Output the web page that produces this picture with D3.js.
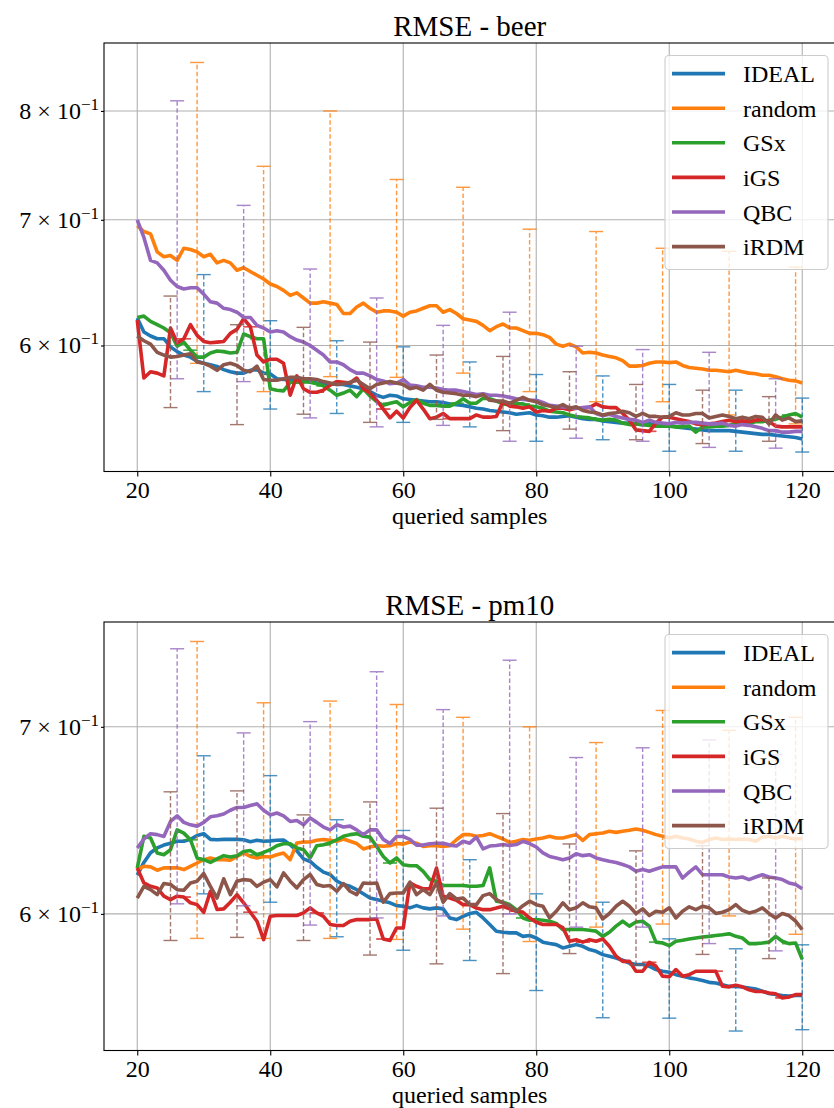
<!DOCTYPE html>
<html>
<head>
<meta charset="utf-8">
<script src="https://cdn.jsdelivr.net/npm/d3@7"></script>
<style>
  html, body { margin: 0; padding: 0; background: #fff; }
  svg text { font-family: "Liberation Serif", "Times New Roman", serif; fill: #000; }
</style>
</head>
<body>
<svg id="chart" width="834" height="1108"></svg>
<script>
const queried = d3.range(20, 121);
const methods = ['IDEAL', 'random', 'GSx', 'iGS', 'QBC', 'iRDM'];
const colors = ['#1f77b4', '#ff7f0e', '#2ca02c', '#d62728', '#9467bd', '#8c564b'];
// first queried count with an error bar, then every 10
const errStart = [30, 29, 28, 27, 26, 25];
const xTicks = [20, 40, 60, 80, 100, 120];

// ---- RMSE - beer ----
const beerIdeal = [
  0.6205, 0.610, 0.607, 0.605, 0.605, 0.599, 0.5955, 0.593, 0.5915, 0.5885,
  0.587, 0.586, 0.5848, 0.5825, 0.581, 0.580, 0.580, 0.582, 0.5825, 0.580,
  0.5795, 0.576, 0.5755, 0.5755, 0.5755, 0.575, 0.574, 0.573, 0.5725, 0.5725,
  0.572, 0.572, 0.571, 0.570, 0.569, 0.567, 0.5645, 0.563, 0.5645, 0.564,
  0.562, 0.5615, 0.561, 0.5605, 0.560, 0.560, 0.5595, 0.5585, 0.558, 0.5575,
  0.5565, 0.5555, 0.555, 0.554, 0.5535, 0.553, 0.5525, 0.5515, 0.552, 0.5525,
  0.551, 0.5505, 0.5495, 0.5495, 0.550, 0.5505, 0.5495, 0.5485, 0.548, 0.548,
  0.547, 0.5465, 0.546, 0.5455, 0.5455, 0.545, 0.5445, 0.545, 0.5445, 0.544,
  0.544, 0.543, 0.5425, 0.542, 0.5415, 0.541, 0.5405, 0.5405, 0.5405, 0.5405,
  0.540, 0.5395, 0.539, 0.5385, 0.538, 0.538, 0.5375, 0.537, 0.5365, 0.536,
  0.535];
const beerRandom = [
  0.695, 0.690, 0.688, 0.673, 0.669, 0.670, 0.666, 0.676, 0.675, 0.673,
  0.669, 0.671, 0.664, 0.666, 0.664, 0.658, 0.660, 0.657, 0.654, 0.651,
  0.647, 0.645, 0.642, 0.638, 0.640, 0.636, 0.632, 0.632, 0.633, 0.632,
  0.631, 0.624, 0.624, 0.629, 0.632, 0.628, 0.625, 0.626, 0.626, 0.625,
  0.622, 0.625, 0.626, 0.628, 0.630, 0.630, 0.625, 0.627, 0.624, 0.620,
  0.619, 0.618, 0.615, 0.611, 0.614, 0.616, 0.613, 0.613, 0.611, 0.609,
  0.609, 0.608, 0.606, 0.601, 0.5995, 0.601, 0.599, 0.5945, 0.595, 0.5945,
  0.593, 0.592, 0.591, 0.589, 0.585, 0.585, 0.5855, 0.587, 0.588, 0.588,
  0.5875, 0.588, 0.5855, 0.584, 0.5835, 0.583, 0.582, 0.582, 0.5815, 0.581,
  0.582, 0.581, 0.580, 0.5795, 0.5785, 0.5785, 0.5775, 0.576, 0.575, 0.5745,
  0.573];
const beerGSx = [
  0.621, 0.622, 0.618, 0.6155, 0.613, 0.6095, 0.5995, 0.6025, 0.5965, 0.5915,
  0.5915, 0.5945, 0.596, 0.5955, 0.5945, 0.595, 0.6085, 0.6065, 0.605, 0.605,
  0.569, 0.568, 0.5675, 0.5735, 0.5735, 0.574, 0.5735, 0.5725, 0.571, 0.568,
  0.5645, 0.566, 0.568, 0.5635, 0.569, 0.564, 0.560, 0.5575, 0.559, 0.560,
  0.5565, 0.5595, 0.5615, 0.559, 0.5575, 0.5575, 0.557, 0.557, 0.559, 0.562,
  0.559, 0.559, 0.5625, 0.562, 0.5605, 0.5585, 0.558, 0.5585, 0.5585, 0.557,
  0.5565, 0.5555, 0.5535, 0.553, 0.5525, 0.551, 0.550, 0.5495, 0.549, 0.548,
  0.5475, 0.548, 0.5475, 0.5455, 0.5445, 0.545, 0.5445, 0.544, 0.5435, 0.5435,
  0.5435, 0.543, 0.543, 0.5435, 0.5395, 0.543, 0.543, 0.5435, 0.5435, 0.544,
  0.545, 0.545, 0.545, 0.5465, 0.5465, 0.5475, 0.548, 0.5495, 0.551, 0.552,
  0.5495];
const beerIGS = [
  0.619, 0.5765, 0.581, 0.580, 0.578, 0.613, 0.602, 0.605, 0.6155, 0.6075,
  0.603, 0.602, 0.6025, 0.603, 0.609, 0.612, 0.620, 0.614, 0.593, 0.588,
  0.590, 0.590, 0.587, 0.5645, 0.578, 0.569, 0.5665, 0.5665, 0.568, 0.5715,
  0.574, 0.5735, 0.573, 0.5765, 0.569, 0.566, 0.561, 0.555, 0.549, 0.5535,
  0.549, 0.556, 0.561, 0.555, 0.5485, 0.5495, 0.552, 0.5485, 0.5485, 0.5485,
  0.5485, 0.551, 0.5495, 0.5495, 0.550, 0.560, 0.557, 0.5565, 0.5555, 0.5565,
  0.553, 0.554, 0.5535, 0.5555, 0.5555, 0.5545, 0.5555, 0.5555, 0.556, 0.5585,
  0.5565, 0.556, 0.556, 0.552, 0.5475, 0.541, 0.5405, 0.540, 0.5455, 0.5495,
  0.5495, 0.5485, 0.5475, 0.5465, 0.545, 0.5445, 0.545, 0.5455, 0.5465, 0.5475,
  0.5465, 0.547, 0.5465, 0.5475, 0.548, 0.5465, 0.5435, 0.543, 0.543, 0.543,
  0.543];
const beerQBC = [
  0.700, 0.685, 0.666, 0.664, 0.658, 0.650, 0.645, 0.643, 0.644, 0.644,
  0.639, 0.633, 0.632, 0.628, 0.627, 0.625, 0.621, 0.621, 0.615, 0.613,
  0.610, 0.611, 0.610, 0.6065, 0.604, 0.6025, 0.600, 0.5965, 0.593, 0.588,
  0.588, 0.586, 0.5825, 0.580, 0.580, 0.578, 0.5755, 0.5745, 0.5725, 0.573,
  0.5755, 0.5715, 0.571, 0.570, 0.570, 0.5695, 0.5685, 0.568, 0.568, 0.567,
  0.566, 0.565, 0.5655, 0.5645, 0.5645, 0.564, 0.563, 0.562, 0.5615, 0.561,
  0.561, 0.5595, 0.5575, 0.557, 0.5565, 0.556, 0.5555, 0.556, 0.5565, 0.552,
  0.5505, 0.5515, 0.550, 0.549, 0.548, 0.5475, 0.546, 0.5475, 0.546, 0.5455,
  0.545, 0.546, 0.5455, 0.546, 0.546, 0.5455, 0.545, 0.545, 0.5455, 0.544,
  0.5435, 0.5445, 0.544, 0.543, 0.542, 0.5405, 0.5405, 0.5395, 0.5395, 0.540,
  0.540];
const beerIRDM = [
  0.607, 0.6035, 0.601, 0.595, 0.593, 0.5915, 0.592, 0.593, 0.594, 0.588,
  0.587, 0.585, 0.582, 0.586, 0.587, 0.5855, 0.582, 0.581, 0.585, 0.5755,
  0.575, 0.575, 0.576, 0.577, 0.577, 0.576, 0.576, 0.5755, 0.574, 0.573,
  0.572, 0.5725, 0.5735, 0.575, 0.572, 0.569, 0.572, 0.573, 0.574, 0.573,
  0.572, 0.569, 0.570, 0.568, 0.572, 0.568, 0.5665, 0.566, 0.5655, 0.5645,
  0.5645, 0.5635, 0.565, 0.561, 0.5605, 0.5605, 0.559, 0.561, 0.563, 0.561,
  0.560, 0.558, 0.557, 0.556, 0.558, 0.5555, 0.5565, 0.554, 0.553, 0.5525,
  0.551, 0.552, 0.5525, 0.5535, 0.5525, 0.550, 0.552, 0.550, 0.550, 0.5495,
  0.550, 0.5525, 0.551, 0.551, 0.552, 0.552, 0.549, 0.550, 0.551, 0.550,
  0.5485, 0.5495, 0.5485, 0.550, 0.5495, 0.545, 0.551, 0.5475, 0.549, 0.5465,
  0.547];

// error bar ends (lower / upper), one per 10 samples
const beerIdealLo  = [0.567, 0.555, 0.552, 0.546, 0.543, 0.5335, 0.5345, 0.527, 0.527, 0.5265];
const beerIdealHi  = [0.6545, 0.6185, 0.6035, 0.599, 0.588, 0.579, 0.578, 0.572, 0.568, 0.5625];
const beerRandomLo = [0.587, 0.567, 0.5775, 0.577, 0.580, 0.567, 0.560, 0.560, 0.551, 0.545];
const beerRandomHi = [0.849, 0.7475, 0.800, 0.7355, 0.7285, 0.692, 0.690, 0.676, 0.6735, 0.6605];
const beerQBCLo    = [0.576, 0.574, 0.549, 0.543, 0.544, 0.5335, 0.5355, 0.5335, 0.5295, 0.529];
const beerQBCHi    = [0.810, 0.7125, 0.659, 0.636, 0.615, 0.625, 0.5995, 0.597, 0.595, 0.576];
const beerIRDMLo   = [0.556, 0.5445, 0.5515, 0.546, 0.548, 0.5405, 0.5415, 0.5345, 0.532, 0.5335];
const beerIRDMHi   = [0.6375, 0.6155, 0.6135, 0.6025, 0.593, 0.592, 0.581, 0.572, 0.568, 0.5635];

// ---- RMSE - pm10 ----
const pm10Ideal = [
  0.6195, 0.626, 0.631, 0.6335, 0.635, 0.636, 0.637, 0.637, 0.638, 0.640,
  0.641, 0.638, 0.6378, 0.638, 0.638, 0.638, 0.6378, 0.6368, 0.6375, 0.637,
  0.6372, 0.6375, 0.6377, 0.6352, 0.632, 0.6278, 0.6265, 0.6235, 0.621, 0.6198,
  0.6165, 0.6147, 0.6138, 0.6121, 0.610, 0.6079, 0.6071, 0.6063, 0.6055, 0.6041,
  0.6038, 0.603, 0.6041, 0.603, 0.6025, 0.603, 0.6025, 0.598, 0.5972, 0.5988,
  0.6002, 0.6008, 0.598, 0.5948, 0.5915, 0.591, 0.5907, 0.5907, 0.589, 0.5894,
  0.5882, 0.5862, 0.5855, 0.585, 0.5834, 0.5842, 0.585, 0.5842, 0.5826, 0.5818,
  0.5802, 0.5794, 0.5786, 0.5775, 0.5762, 0.5755, 0.5755, 0.5747, 0.5731, 0.5723,
  0.5718, 0.5707, 0.570, 0.5692, 0.5687, 0.568, 0.5671, 0.5668, 0.566, 0.5652,
  0.5652, 0.5649, 0.5645, 0.564, 0.563, 0.5619, 0.5614, 0.561, 0.5607, 0.561,
  0.561];
const pm10Random = [
  0.6223, 0.624, 0.6237, 0.622, 0.6232, 0.6232, 0.6232, 0.6223, 0.624, 0.6257,
  0.6274, 0.6283, 0.6274, 0.6274, 0.6271, 0.6291, 0.6309, 0.6291, 0.6283, 0.6291,
  0.6288, 0.630, 0.6309, 0.6274, 0.6361, 0.6366, 0.6366, 0.6375, 0.6379, 0.6375,
  0.637, 0.6382, 0.637, 0.6358, 0.633, 0.634, 0.6347, 0.6344, 0.6347, 0.6358,
  0.6355, 0.6366, 0.636, 0.6343, 0.6347, 0.6347, 0.6343, 0.6347, 0.6378, 0.6405,
  0.6405, 0.6396, 0.640, 0.641, 0.6396, 0.6382, 0.6364, 0.637, 0.6379, 0.6375,
  0.6382, 0.6387, 0.6396, 0.6387, 0.6387, 0.6396, 0.6405, 0.6375, 0.6405, 0.641,
  0.6414, 0.6423, 0.6417, 0.6423, 0.6428, 0.6435, 0.6428, 0.6417, 0.6405, 0.6396,
  0.6387, 0.6396, 0.6387, 0.6382, 0.637, 0.6364, 0.6379, 0.6387, 0.6379, 0.6382,
  0.6379, 0.6382, 0.6379, 0.637, 0.6392, 0.6396, 0.6387, 0.6396, 0.6387, 0.6382,
  0.6385];
const pm10GSx = [
  0.6231, 0.6396, 0.6387, 0.6309, 0.630, 0.6326, 0.643, 0.6413, 0.6378, 0.6283,
  0.6274, 0.626, 0.6278, 0.6295, 0.6288, 0.6295, 0.6317, 0.6322, 0.630, 0.6312,
  0.6326, 0.6347, 0.6357, 0.6357, 0.6335, 0.6326, 0.6283, 0.6347, 0.6352, 0.6361,
  0.6378, 0.6396, 0.6405, 0.641, 0.6396, 0.6392, 0.6343, 0.6291, 0.6257, 0.6283,
  0.6248, 0.6243, 0.6243, 0.6214, 0.6172, 0.6164, 0.6142, 0.6142, 0.6142, 0.6142,
  0.6138, 0.6138, 0.6142, 0.6232, 0.6063, 0.6058, 0.6046, 0.6021, 0.598, 0.5969,
  0.5972, 0.5969, 0.5964, 0.5953, 0.5923, 0.5923, 0.5923, 0.5923, 0.592, 0.5915,
  0.589, 0.591, 0.594, 0.5964, 0.594, 0.596, 0.5964, 0.594, 0.5862, 0.5858,
  0.5845, 0.5866, 0.5871, 0.5877, 0.5882, 0.5887, 0.589, 0.5894, 0.5898, 0.5903,
  0.589, 0.5882, 0.5855, 0.5855, 0.5858, 0.5862, 0.589, 0.5866, 0.5855, 0.5858,
  0.5779];
const pm10IGS = [
  0.6231, 0.6155, 0.6138, 0.613, 0.6088, 0.6071, 0.6088, 0.6084, 0.6055, 0.6046,
  0.6008, 0.6113, 0.6022, 0.6025, 0.6058, 0.6096, 0.6055, 0.6008, 0.5964, 0.5874,
  0.5988, 0.5992, 0.5992, 0.5992, 0.5992, 0.6005, 0.603, 0.6005, 0.5988, 0.5948,
  0.5943, 0.5943, 0.5964, 0.5972, 0.5972, 0.5972, 0.5975, 0.5877, 0.587, 0.5931,
  0.5931, 0.6155, 0.6138, 0.6125, 0.6125, 0.6231, 0.6088, 0.6079, 0.6068, 0.6046,
  0.6046, 0.6029, 0.6021, 0.6021, 0.6029, 0.6038, 0.6025, 0.6013, 0.6008, 0.598,
  0.5959, 0.5948, 0.5948, 0.5948, 0.5932, 0.5866, 0.5874, 0.5862, 0.5874, 0.5866,
  0.5877, 0.5842, 0.5794, 0.577, 0.577, 0.5723, 0.5723, 0.5765, 0.5747, 0.570,
  0.5697, 0.5731, 0.570, 0.5707, 0.5723, 0.5723, 0.5723, 0.5723, 0.5653, 0.565,
  0.5658, 0.565, 0.5636, 0.5628, 0.5628, 0.5621, 0.5618, 0.5599, 0.5603, 0.5614,
  0.5614];
const pm10QBC = [
  0.6335, 0.6382, 0.641, 0.6405, 0.6395, 0.6475, 0.6505, 0.647, 0.6457, 0.645,
  0.647, 0.650, 0.6505, 0.6515, 0.6535, 0.655, 0.655, 0.656, 0.657, 0.6535,
  0.651, 0.652, 0.6505, 0.6475, 0.648, 0.6457, 0.6493, 0.647, 0.6445, 0.643,
  0.6457, 0.6445, 0.645, 0.643, 0.6405, 0.643, 0.643, 0.638, 0.6358, 0.6395,
  0.6395, 0.638, 0.635, 0.635, 0.6357, 0.636, 0.636, 0.635, 0.6345, 0.637,
  0.636, 0.6392, 0.633, 0.6345, 0.6348, 0.6353, 0.6348, 0.6353, 0.637, 0.6358,
  0.634, 0.6309, 0.6291, 0.6283, 0.6274, 0.6283, 0.6305, 0.6295, 0.630, 0.6283,
  0.6274, 0.6266, 0.626, 0.6249, 0.6237, 0.6215, 0.6223, 0.6215, 0.6226, 0.6237,
  0.6237, 0.6237, 0.618, 0.621, 0.6237, 0.6197, 0.6197, 0.6197, 0.6197, 0.6185,
  0.618, 0.6185, 0.6172, 0.6185, 0.6197, 0.6185, 0.618, 0.6172, 0.6155, 0.6147,
  0.6126];
const pm10IRDM = [
  0.6079, 0.6138, 0.6121, 0.6096, 0.6152, 0.6147, 0.6121, 0.6118, 0.6155, 0.6164,
  0.6203, 0.6138, 0.6079, 0.6176, 0.6096, 0.6164, 0.6172, 0.6169, 0.6138, 0.6159,
  0.6172, 0.6135, 0.6206, 0.6164, 0.613, 0.6172, 0.6198, 0.6147, 0.6138, 0.6142,
  0.6113, 0.6152, 0.6113, 0.6096, 0.6155, 0.6152, 0.6155, 0.6058, 0.6101, 0.6104,
  0.6104, 0.6159, 0.6096, 0.6121, 0.6096, 0.6155, 0.6058, 0.6101, 0.6074, 0.6079,
  0.6046, 0.6046, 0.6091, 0.6101, 0.6071, 0.6055, 0.6038, 0.6013, 0.6041, 0.6063,
  0.6046, 0.6038, 0.598, 0.6013, 0.6055, 0.6021, 0.603, 0.6055, 0.6035, 0.603,
  0.5975, 0.6002, 0.6038, 0.6063, 0.6038, 0.6002, 0.6025, 0.5992, 0.6013, 0.6008,
  0.603, 0.598, 0.6013, 0.6035, 0.6021, 0.6038, 0.603, 0.6002, 0.6008, 0.6021,
  0.6046, 0.6018, 0.6005, 0.6013, 0.603, 0.6002, 0.598, 0.6002, 0.5992, 0.5964,
  0.5923];

const pm10IdealLo  = [0.610, 0.6058, 0.5888, 0.5823, 0.5774, 0.5633, 0.5508, 0.5506, 0.5448, 0.5454];
const pm10IdealHi  = [0.6835, 0.6724, 0.6484, 0.6427, 0.6274, 0.610, 0.6058, 0.5878, 0.583, 0.5849];
const pm10RandomLo = [0.588, 0.588, 0.588, 0.5875, 0.5925, 0.5865, 0.5935, 0.595, 0.599, 0.590];
const pm10RandomHi = [0.751, 0.714, 0.715, 0.713, 0.7055, 0.700, 0.691, 0.7095, 0.698, 0.7055];
const pm10QBCLo    = [0.605, 0.604, 0.5945, 0.598, 0.599, 0.600, 0.5935, 0.5935, 0.5855, 0.582];
const pm10QBCHi    = [0.7465, 0.6965, 0.703, 0.7325, 0.710, 0.7395, 0.6825, 0.688, 0.6925, 0.684];
const pm10IRDMLo   = [0.587, 0.5885, 0.587, 0.580, 0.5758, 0.5712, 0.5807, 0.5753, 0.5803, 0.5783];
const pm10IRDMHi   = [0.6635, 0.664, 0.651, 0.658, 0.6546, 0.6517, 0.6356, 0.632, 0.6347, 0.618];

const panels = [
  { title: 'RMSE - beer', top: 43, yTicks: [0.6, 0.7, 0.8],
    values: [beerIdeal, beerRandom, beerGSx, beerIGS, beerQBC, beerIRDM],
    lo: [beerIdealLo, beerRandomLo, null, null, beerQBCLo, beerIRDMLo],
    hi: [beerIdealHi, beerRandomHi, null, null, beerQBCHi, beerIRDMHi] },
  { title: 'RMSE - pm10', top: 622, yTicks: [0.6, 0.7],
    values: [pm10Ideal, pm10Random, pm10GSx, pm10IGS, pm10QBC, pm10IRDM],
    lo: [pm10IdealLo, pm10RandomLo, null, null, pm10QBCLo, pm10IRDMLo],
    hi: [pm10IdealHi, pm10RandomHi, null, null, pm10QBCHi, pm10IRDMHi] }
];

const svg = d3.select('#chart');
const x = d3.scaleLinear().domain([15, 125]).range([104, 835.5]);
const axH = 428.5;

function drawPanel(p, pi) {
  const top = p.top, bottom = top + axH;

  // error bar rows; methods without a spread (GSx, iGS) get flat bars at the mean
  const bars = methods.map((m, i) => d3.range(10).map(j => {
    const q = errStart[i] + 10 * j;
    const v = p.values[i][q - 20];
    return { q: q, lo: p.lo[i] ? p.lo[i][j] : v, hi: p.hi[i] ? p.hi[i][j] : v };
  }));

  // log axis limits with 5% margin, like matplotlib autoscale
  const all = p.values.flat().concat(bars.flat().flatMap(b => [b.lo, b.hi]));
  const l0 = Math.log10(d3.min(all)), l1 = Math.log10(d3.max(all));
  const pad = (l1 - l0) * 0.05;
  const y = d3.scaleLog().domain([10 ** (l0 - pad), 10 ** (l1 + pad)]).range([bottom, top]);

  const g = svg.append('g');

  // grid
  g.append('g').selectAll('line').data(xTicks).join('line')
    .attr('x1', d => x(d)).attr('x2', d => x(d)).attr('y1', top).attr('y2', bottom)
    .attr('stroke', '#b0b0b0').attr('stroke-width', 1.1);
  g.append('g').selectAll('line').data(p.yTicks).join('line')
    .attr('x1', x(15)).attr('x2', x(125)).attr('y1', d => y(d)).attr('y2', d => y(d))
    .attr('stroke', '#b0b0b0').attr('stroke-width', 1.1);

  const line = d3.line().x((d, i) => x(queried[i])).y(d => y(d));

  methods.forEach((m, i) => {
    g.append('path').datum(p.values[i])
      .attr('d', line)
      .attr('fill', 'none')
      .attr('stroke', colors[i])
      .attr('stroke-width', 3.6)
      .attr('stroke-linejoin', 'round');

    const eb = g.append('g').attr('stroke', colors[i]).attr('opacity', 0.8);
    eb.selectAll('line.bar').data(bars[i]).join('line').attr('class', 'bar')
      .attr('x1', d => x(d.q)).attr('x2', d => x(d.q))
      .attr('y1', d => y(d.lo)).attr('y2', d => y(d.hi))
      .attr('stroke-width', 1.4).attr('stroke-dasharray', '4.5,2.5');
    ['lo', 'hi'].forEach(k => {
      eb.selectAll('line.cap-' + k).data(bars[i]).join('line').attr('class', 'cap-' + k)
        .attr('x1', d => x(d.q) - 7).attr('x2', d => x(d.q) + 7)
        .attr('y1', d => y(d[k])).attr('y2', d => y(d[k]))
        .attr('stroke-width', 1.4);
    });
  });

  // spines
  g.append('rect').attr('x', x(15)).attr('y', top).attr('width', x(125) - x(15)).attr('height', axH)
    .attr('fill', 'none').attr('stroke', '#000').attr('stroke-width', 1.1);

  // x axis
  const xa = g.append('g').attr('transform', `translate(0,${bottom})`)
    .call(d3.axisBottom(x).tickValues(xTicks).tickSize(5).tickPadding(4.5));
  xa.select('.domain').remove();
  xa.selectAll('.tick line').attr('stroke', '#000').attr('stroke-width', 1.1);
  xa.selectAll('.tick text').attr('font-size', 24)
    .style('font-family', '"Liberation Serif", "Times New Roman", serif');

  // y axis (log minor ticks with labels like 6 x 10^-1)
  const ya = g.append('g').attr('transform', `translate(${x(15)},0)`)
    .call(d3.axisLeft(y).tickValues(p.yTicks).tickSize(3).tickFormat(''));
  ya.select('.domain').remove();
  ya.selectAll('.tick line').attr('stroke', '#000').attr('stroke-width', 1.1);
  const yl = g.append('g').selectAll('text').data(p.yTicks).join('text')
    .attr('x', 99).attr('y', d => y(d) + 8).attr('text-anchor', 'end').attr('font-size', 24);
  yl.append('tspan').text(d => Math.round(d * 10) + ' \u00d7 10');
  yl.append('tspan').attr('dy', -9).attr('font-size', 17).text('\u22121');

  // labels
  g.append('text').attr('x', (x(15) + x(125)) / 2).attr('y', top - 7.5)
    .attr('text-anchor', 'middle').attr('font-size', 29).text(p.title);
  g.append('text').attr('x', (x(15) + x(125)) / 2).attr('y', bottom + 52)
    .attr('text-anchor', 'middle').attr('font-size', 24).text('queried samples');

  // legend
  const lg = g.append('g');
  lg.append('rect').attr('x', 665).attr('y', top + 12.5).attr('width', 163).attr('height', 214)
    .attr('rx', 4).attr('fill', '#fff').attr('fill-opacity', 0.8)
    .attr('stroke', '#cccccc').attr('stroke-width', 1.1);
  const items = lg.selectAll('g.item').data(methods).join('g').attr('class', 'item')
    .attr('transform', (d, i) => `translate(0,${top + 30.6 + i * 34.6})`);
  items.append('line').attr('x1', 672).attr('x2', 725)
    .attr('stroke', (d, i) => colors[i]).attr('stroke-width', 3.6);
  items.append('text').attr('x', 743).attr('y', 8.5).attr('font-size', 24).text(d => d);
}

panels.forEach(drawPanel);
</script>
</body>
</html>
